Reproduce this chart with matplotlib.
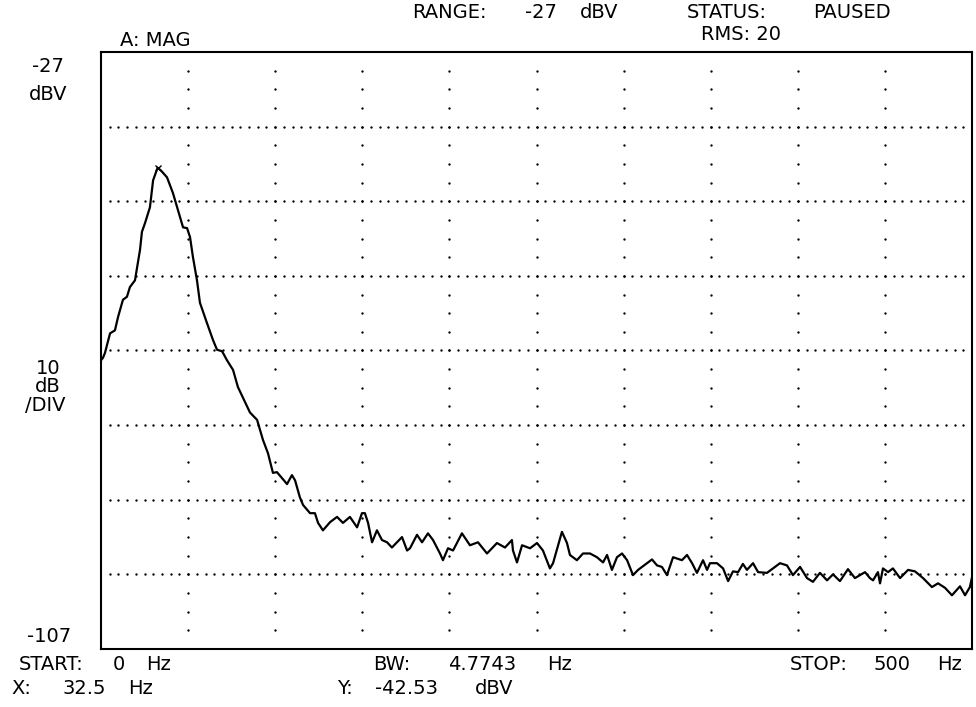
import numpy as np
import matplotlib
matplotlib.use("Agg")
import matplotlib.pyplot as plt

# ---- data ----
freq_hz = [0, 1.1, 2.3, 5.2, 8.0, 9.8, 12.6, 14.9, 16.6, 19.5, 22.4, 23.5, 25.3, 28.1, 29.9,
           32.5, 34.5, 37.9, 41.3, 44.2, 47.1, 49.4, 51.1, 52.8, 55.1, 56.8, 60.8, 64.3, 66.6,
           69.5, 72.3, 75.8, 78.6, 85.5, 89.6, 93.0, 95.9, 98.7, 101.0, 103.9, 106.8, 109.6,
           111.4, 114.2, 116.0, 120.0, 122.8, 124.6, 127.4, 131.5, 135.5, 138.9, 142.9, 147.0,
           149.8, 151.5, 153.3, 155.6, 158.4, 161.3, 164.2, 167.0, 169.9, 172.8, 175.7, 177.4,
           181.4, 184.3, 187.7, 190.6, 194.6, 196.3, 199.2, 202.1, 207.2, 211.8, 216.4, 221.6,
           227.3, 231.9, 235.9, 236.5, 238.8, 241.7, 246.3, 250.3, 253.7, 257.7, 259.5, 264.6,
           267.5, 269.2, 273.2, 276.7, 280.7, 284.7, 288.2, 290.5, 293.3, 296.2, 299.1, 302.0,
           305.4, 308.3, 314.0, 316.3, 319.2, 322.0, 324.9, 328.4, 333.5, 336.4, 339.3, 342.1,
           345.6, 347.9, 349.6, 353.6, 357.1, 360.0, 362.8, 365.7, 368.5, 370.8, 374.3, 377.2,
           382.3, 385.8, 389.8, 393.8, 397.2, 401.3, 405.3, 408.7, 412.7, 416.8, 420.2, 424.2,
           428.8, 432.8, 435.7, 438.6, 441.4, 443.2, 446.0, 447.2, 448.9, 451.8, 454.6, 458.7,
           463.3, 467.3, 471.9, 477.0, 480.5, 484.5, 488.5, 493.1, 496.0, 498.8, 500.0]
mag_dbv = [-68.3, -68.0, -67.3, -64.7, -64.3, -62.5, -60.2, -59.8, -58.5, -57.6, -53.5, -51.1,
           -49.9, -47.8, -44.2, -42.5, -42.9, -43.8, -45.9, -48.2, -50.5, -50.6, -51.8, -54.5,
           -57.6, -60.6, -63.3, -65.6, -66.9, -67.1, -68.3, -69.6, -71.9, -75.3, -76.3, -79.0,
           -80.8, -83.4, -83.3, -84.1, -84.9, -83.7, -84.4, -86.7, -87.7, -88.8, -88.8, -90.1,
           -91.1, -90.0, -89.3, -90.1, -89.3, -90.7, -88.8, -88.8, -90.1, -92.7, -91.1, -92.4,
           -92.7, -93.4, -92.7, -92.0, -93.8, -93.5, -91.7, -92.7, -91.5, -92.4, -94.2, -95.1,
           -93.5, -93.8, -91.5, -93.1, -92.7, -94.2, -92.8, -93.4, -92.4, -93.8, -95.4, -93.1,
           -93.5, -92.8, -93.8, -96.2, -95.5, -91.3, -92.8, -94.4, -95.1, -94.2, -94.2, -94.7,
           -95.4, -94.4, -96.4, -94.7, -94.2, -95.1, -97.1, -96.4, -95.4, -95.0, -95.8, -96.0,
           -97.1, -94.7, -95.1, -94.4, -95.5, -96.8, -95.1, -96.4, -95.5, -95.5, -96.2, -97.9,
           -96.6, -96.7, -95.6, -96.4, -95.5, -96.7, -96.8, -96.2, -95.5, -95.8, -97.1, -96.0,
           -97.5, -98.0, -96.8, -97.8, -97.0, -97.9, -96.3, -97.5, -97.1, -96.7, -97.5, -97.8,
           -96.7, -98.2, -96.2, -96.7, -96.2, -97.5, -96.4, -96.6, -97.5, -98.7, -98.2, -98.8,
           -99.8, -98.6, -99.8, -98.7, -97.4]
marker_x = 32.5
marker_y = -42.53

x_start, x_stop = 0, 500
y_top, y_bottom = -27, -107
db_per_div = 10
hz_per_div = 50

W, H = 976, 707
fig = plt.figure(figsize=(W / 100, H / 100), dpi=100)
fig.patch.set_facecolor("white")
ax = fig.add_axes([101 / W, 1 - 649 / H, (972 - 101) / W, (649 - 52) / H])
ax.set_xlim(x_start, x_stop)
ax.set_ylim(y_bottom, y_top)
ax.set_xticks([])
ax.set_yticks([])
for s in ax.spines.values():
    s.set_linewidth(1.5)
    s.set_color("black")

# dotted graticule
h_lines = np.arange(y_top - db_per_div, y_bottom, -db_per_div)
v_lines = np.arange(x_start + hz_per_div, x_stop, hz_per_div)
hx = np.arange(5, 500, 5)
for yv in h_lines:
    ax.plot(hx, np.full_like(hx, yv, dtype=float), ls="none", marker="o",
            ms=1.7, mfc="black", mec="none")
vy = np.arange(y_top - 2.5, y_bottom, -2.5)
for xv in v_lines:
    ax.plot(np.full_like(vy, xv, dtype=float), vy, ls="none", marker="o",
            ms=1.7, mfc="black", mec="none")

# trace
ax.plot(freq_hz, mag_dbv, color="black", lw=1.6, solid_joinstyle="round")
ax.plot([marker_x], [marker_y], marker="x", color="black", ms=5, mew=1.0)

# annotations (pixel positions -> figure fraction)
FS = 14
FONT = "DejaVu Sans"


def put(txt, xc, yc, ha="center"):
    fig.text(xc / W, 1 - yc / H, txt, ha=ha, va="center", fontsize=FS,
             family=FONT, color="black")


put("RANGE:", 449, 12)
put("-27", 541, 12)
put("dBV", 599, 12)
put("STATUS:", 727, 13)
put("PAUSED", 852, 13)
put("A: MAG", 155, 40)
put("RMS: 20", 741, 35)

put("-27", 48, 66)
put("dBV", 48, 94)
put("10", 48, 368)
put("dB", 48, 387)
put("/DIV", 45, 406)
put("-107", 49, 637)

put("START:", 51, 665)
put("0", 119, 665)
put("Hz", 159, 665)
put("BW:", 392, 665)
put("4.7743", 482, 665)
put("Hz", 560, 665)
put("STOP:", 819, 665)
put("500", 892, 665)
put("Hz", 950, 665)

put("X:", 21, 688)
put("32.5", 84, 688)
put("Hz", 141, 688)
put("Y:", 345, 688)
put("-42.53", 406, 688)
put("dBV", 494, 688)

fig.savefig("out.png", dpi=100, facecolor="white")
